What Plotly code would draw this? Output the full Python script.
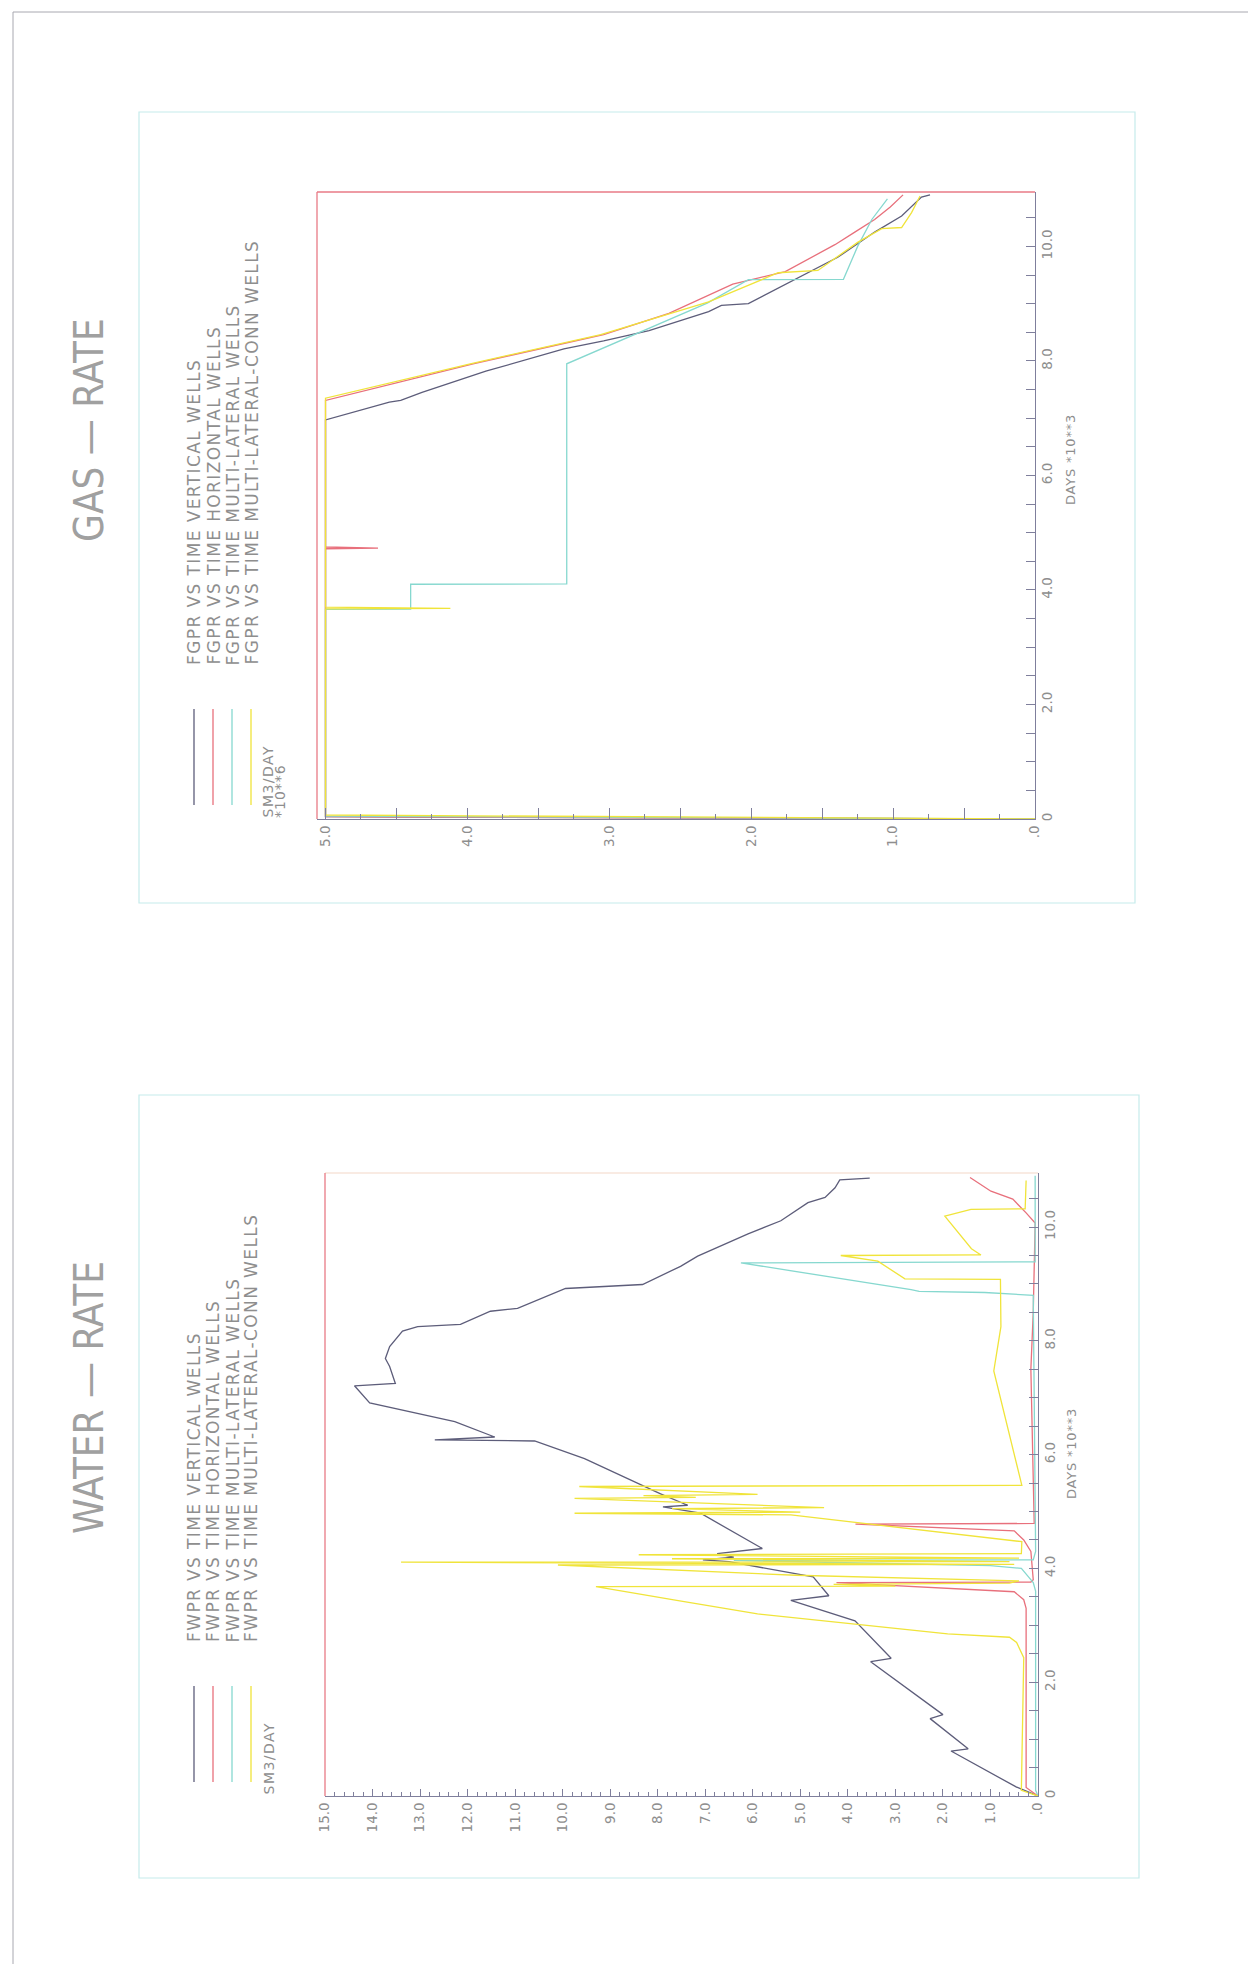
import plotly.graph_objects as go

W, H = 1256, 1964

# ---------------- GAS-RATE (FGPR, SM3/DAY *10**6 ; days *10**3) ----------------
gas_vert_days = [0, 0.04, 6.97, 7.28, 7.31, 7.45, 7.82, 8.21, 8.35, 8.53, 8.86, 8.97, 9.0, 9.24, 9.54, 9.81, 10.25, 10.53, 10.86, 10.9]
gas_vert_rate = [0, 5.0, 5.0, 4.55, 4.47, 4.32, 3.87, 3.32, 3.04, 2.72, 2.30, 2.21, 2.02, 1.83, 1.60, 1.39, 1.13, 0.94, 0.80, 0.74]

gas_horz_days = [0, 0.04, 4.72, 4.73, 4.75, 7.31, 7.95, 8.46, 8.83, 9.34, 9.56, 9.77, 10.03, 10.25, 10.47, 10.69, 10.9]
gas_horz_rate = [0, 5.0, 5.0, 4.63, 5.0, 5.0, 3.96, 3.04, 2.58, 2.13, 1.76, 1.60, 1.41, 1.27, 1.13, 1.02, 0.93]

gas_ml_days = [0, 0.05, 3.66, 3.665, 4.10, 4.105, 7.95, 8.51, 9.01, 9.42, 9.425, 10.0, 10.47, 10.83]
gas_ml_rate = [0, 5.0, 5.0, 4.40, 4.40, 3.30, 3.30, 2.77, 2.31, 2.02, 1.35, 1.25, 1.15, 1.04]

gas_mlc_days = [0, 0.07, 3.67, 3.68, 3.70, 7.35, 7.95, 8.46, 9.03, 9.54, 9.58, 9.86, 10.07, 10.31, 10.33, 10.59, 10.88]
gas_mlc_rate = [0, 5.0, 5.0, 4.12, 5.0, 5.0, 3.98, 3.06, 2.30, 1.81, 1.53, 1.37, 1.25, 1.08, 0.94, 0.87, 0.81]

# ---------------- WATER-RATE (FWPR, SM3/DAY ; days *10**3) ----------------
wat_vert_days = [0, 0.16, 0.79, 0.83, 1.36, 1.43, 2.36, 2.42, 3.08, 3.44, 3.52, 3.85, 4.12, 4.15, 4.20, 4.26, 4.35,
                 4.97, 5.08, 5.11, 5.31, 5.93, 6.24, 6.26, 6.31, 6.55, 6.58, 6.91, 7.21, 7.25, 7.55, 7.69, 7.90,
                 8.17, 8.25, 8.29, 8.52, 8.57, 8.92, 8.99, 9.31, 9.49, 9.88, 10.11, 10.43, 10.52, 10.69, 10.83, 10.86]
wat_vert_rate = [0, 0.46, 1.83, 1.47, 2.27, 2.00, 3.52, 3.09, 3.85, 5.2, 4.4, 4.73, 6.5, 7.05, 6.4, 6.75, 5.8,
                 7.1, 7.89, 7.37, 7.94, 9.54, 10.59, 12.69, 11.43, 12.2, 12.27, 14.06, 14.38, 13.52, 13.64, 13.73, 13.64,
                 13.37, 13.05, 12.15, 11.52, 10.95, 9.94, 8.32, 7.52, 7.16, 6.1, 5.41, 4.84, 4.48, 4.27, 4.17, 3.54]

wat_horz_days = [0, 0.15, 3.3, 3.45, 3.59, 3.75, 3.76, 3.8, 4.3, 4.5, 4.66, 4.78, 4.79, 7.5, 8.5, 9.7, 10.07, 10.25, 10.49, 10.63, 10.75, 10.87]
wat_horz_rate = [0, 0.25, 0.25, 0.3, 0.5, 4.24, 0.15, 0.1, 0.15, 0.3, 0.5, 3.84, 0.08, 0.15, 0.1, 0.06, 0.06, 0.25, 0.53, 0.99, 1.2, 1.43]

wat_ml_days = [0, 0.1, 3.6, 3.75, 3.85, 4.0, 4.05, 4.14, 4.15, 4.3, 8.8, 8.85, 8.87, 8.9, 9.37, 9.39, 10.9]
wat_ml_rate = [0, 0.05, 0.05, 0.1, 0.2, 0.35, 1.0, 6.4, 0.1, 0.05, 0.1, 1.12, 2.5, 2.67, 6.25, 0.06, 0.06]

wat_mlc_days = [0, 0.1, 2.43, 2.7, 2.79, 2.85, 3.0, 3.2, 3.44, 3.68, 3.69, 3.72, 3.74, 3.78, 3.88, 4.06, 4.07, 4.11,
                4.12, 4.17, 4.18, 4.24, 4.26, 4.47, 4.94, 4.97, 4.99, 5.05, 5.07, 5.23, 5.25, 5.28, 5.30, 5.44,
                5.46, 7.47, 8.25, 8.78, 9.08, 9.09, 9.4, 9.5, 9.51, 9.62, 10.19, 10.31, 10.32, 10.82]
wat_mlc_rate = [0, 0.35, 0.3, 0.45, 0.6, 1.9, 3.6, 5.9, 7.6, 9.3, 3.0, 4.3, 0.6, 0.4, 5.1, 10.1, 0.5, 13.4,
                0.6, 7.7, 0.4, 8.4, 0.35, 0.34, 5.2, 9.75, 5.0, 7.7, 4.5, 9.75, 7.2, 8.3, 5.9, 9.65,
                0.34, 0.93, 0.78, 0.78, 0.79, 2.8, 3.37, 4.15, 1.2, 1.4, 1.96, 1.41, 0.27, 0.25]

# ---------------- tick labels ----------------
gas_rate_ticks = [0, 0.5, 1, 1.5, 2, 2.5, 3, 3.5, 4, 4.5, 5]
gas_rate_labels = [".0", "", "1.0", "", "2.0", "", "3.0", "", "4.0", "", "5.0"]
wat_rate_ticks = list(range(0, 16))
wat_rate_labels = [".0"] + [f"{v}.0" for v in range(1, 16)]
day_ticks = [i * 0.5 for i in range(0, 22)]
day_labels = ["0" if v == 0 else (f"{v:.1f}" if v in (2, 4, 6, 8, 10) else "") for v in day_ticks]

series_names = ["VERTICAL WELLS", "HORIZONTAL WELLS", "MULTI-LATERAL WELLS", "MULTI-LATERAL-CONN WELLS"]
series_colors = ["#5d5d7a", "#e8707c", "#86d8cf", "#f0e43a"]

FONT = "DejaVu Sans, Verdana, sans-serif"
TFONT = "Liberation Sans Narrow, DejaVu Sans Condensed, Arial Narrow, sans-serif"
TXT = "#8e8e8e"
AXC = "#7f7f9c"


def X(px):
    return px / W


def Y(py):
    return 1 - py / H


fig = go.Figure()

gas = [(gas_vert_days, gas_vert_rate), (gas_horz_days, gas_horz_rate), (gas_ml_days, gas_ml_rate), (gas_mlc_days, gas_mlc_rate)]
wat = [(wat_vert_days, wat_vert_rate), (wat_horz_days, wat_horz_rate), (wat_ml_days, wat_ml_rate), (wat_mlc_days, wat_mlc_rate)]

for (d, r), nm, c in zip(gas, series_names, series_colors):
    fig.add_trace(go.Scatter(x=r, y=d, mode="lines", name="FGPR VS TIME " + nm,
                             line=dict(color=c, width=1.3), xaxis="x", yaxis="y", showlegend=False))
for (d, r), nm, c in zip(wat, series_names, series_colors):
    fig.add_trace(go.Scatter(x=r, y=d, mode="lines", name="FWPR VS TIME " + nm,
                             line=dict(color=c, width=1.3), xaxis="x2", yaxis="y2", showlegend=False))

gx0, gx1, gy0, gy1 = 309, 1027, 811, 184
wx0, wx1, wy0, wy1 = 317, 1030, 1788, 1165
DAYMAX = 10.95

tickfont = dict(family=FONT, size=13.5, color=TXT)

common_x = dict(showgrid=False, zeroline=False, showline=True, linecolor=AXC, linewidth=1,
                ticks="inside", tickcolor=AXC, tickangle=-90, tickfont=tickfont, side="bottom", fixedrange=True)
common_y = dict(showgrid=False, zeroline=False, showline=True, linecolor=AXC, linewidth=1,
                ticks="inside", tickcolor=AXC, ticklen=9, tickangle=-90, tickfont=tickfont, side="right",
                tickmode="array", tickvals=day_ticks, ticktext=day_labels, range=[0, DAYMAX], fixedrange=True)

fig.update_layout(
    width=W, height=H,
    margin=dict(l=0, r=0, t=0, b=0, autoexpand=False),
    paper_bgcolor="white", plot_bgcolor="white",
    xaxis=dict(domain=[X(gx0), X(gx1)], range=[5.06, 0], anchor="y", tickmode="array",
               tickvals=gas_rate_ticks, ticktext=gas_rate_labels, ticklen=11,
               minor=dict(tick0=0, dtick=0.25, ticklen=5, ticks="inside", tickcolor=AXC), **common_x),
    yaxis=dict(domain=[Y(gy0), Y(gy1)], anchor="x", **common_y),
    xaxis2=dict(domain=[X(wx0), X(wx1)], range=[15, 0], anchor="y2", tickmode="array",
                tickvals=wat_rate_ticks, ticktext=wat_rate_labels, ticklen=7,
                minor=dict(tick0=0, dtick=0.2, ticklen=4, ticks="inside", tickcolor=AXC), **common_x),
    yaxis2=dict(domain=[Y(wy0), Y(wy1)], anchor="x2", **common_y),
)

shapes = []
# page border
shapes.append(dict(type="rect", xref="paper", yref="paper", x0=X(5), x1=X(1251), y0=Y(4), y1=Y(1958),
                   line=dict(color="#a8a8b0", width=1)))
# panel frames
shapes.append(dict(type="rect", xref="paper", yref="paper", x0=X(131), x1=X(1127), y0=Y(104), y1=Y(895),
                   line=dict(color="#c6ecec", width=1.2)))
shapes.append(dict(type="rect", xref="paper", yref="paper", x0=X(131), x1=X(1131), y0=Y(1087), y1=Y(1870),
                   line=dict(color="#c6ecec", width=1.2)))
# plot frame top/left (red) for gas
shapes.append(dict(type="line", xref="paper", yref="paper", x0=X(gx0), x1=X(gx1), y0=Y(gy1), y1=Y(gy1),
                   line=dict(color="#e87a86", width=1.3)))
shapes.append(dict(type="line", xref="paper", yref="paper", x0=X(gx0), x1=X(gx0), y0=Y(gy0), y1=Y(gy1),
                   line=dict(color="#e87a86", width=1.3)))
# water frame
shapes.append(dict(type="line", xref="paper", yref="paper", x0=X(wx0), x1=X(wx1), y0=Y(wy1), y1=Y(wy1),
                   line=dict(color="#f4d8c8", width=1.2)))
shapes.append(dict(type="line", xref="paper", yref="paper", x0=X(wx0), x1=X(wx0), y0=Y(wy0), y1=Y(wy1),
                   line=dict(color="#e87a86", width=1.3)))

annotations = []


def text(s, px, py, size, xanchor="center", yanchor="middle", color=TXT, family=FONT, spacing=None):
    if spacing:
        s = f'<span style="letter-spacing:{spacing}px">{s}</span>'
    annotations.append(dict(text=s, x=X(px), y=Y(py), xref="paper", yref="paper", showarrow=False,
                            textangle=-90, xanchor=xanchor, yanchor=yanchor,
                            font=dict(family=family, size=size, color=color)))


# titles
text("GAS \u2014 RATE", 81, 422, 40, color="#a0a0a0", family=TFONT)
text("WATER \u2014 RATE", 81, 1390, 40, color="#a0a0a0", family=TFONT)

leg_cols = [186, 205, 224, 243]
# legend blocks, placed relative to each plot's bottom edge
for prefix, bottom in (("FGPR", gy0), ("FWPR", wy0)):
    for cx, nm, c in zip(leg_cols, series_names, series_colors):
        text(prefix + " VS TIME " + nm, cx, bottom - 152, 17, yanchor="bottom", spacing=1.4)
        shapes.append(dict(type="line", xref="paper", yref="paper", x0=X(cx), x1=X(cx),
                           y0=Y(bottom - 14), y1=Y(bottom - 110), line=dict(color=c, width=1.3)))

text("SM3/DAY", 259, gy0 + 1, 14, yanchor="bottom", spacing=1.5)
text("*10**6", 272, gy0 + 1, 14, yanchor="bottom", spacing=1.0)
text("DAYS *10**3", 1062, 452, 13, spacing=0.8)

text("SM3/DAY", 260, wy0 + 1, 14, yanchor="bottom", spacing=1.5)
text("DAYS *10**3", 1063, 1446, 13, spacing=0.8)

fig.update_layout(shapes=shapes, annotations=annotations)

fig.write_html("out.html")
